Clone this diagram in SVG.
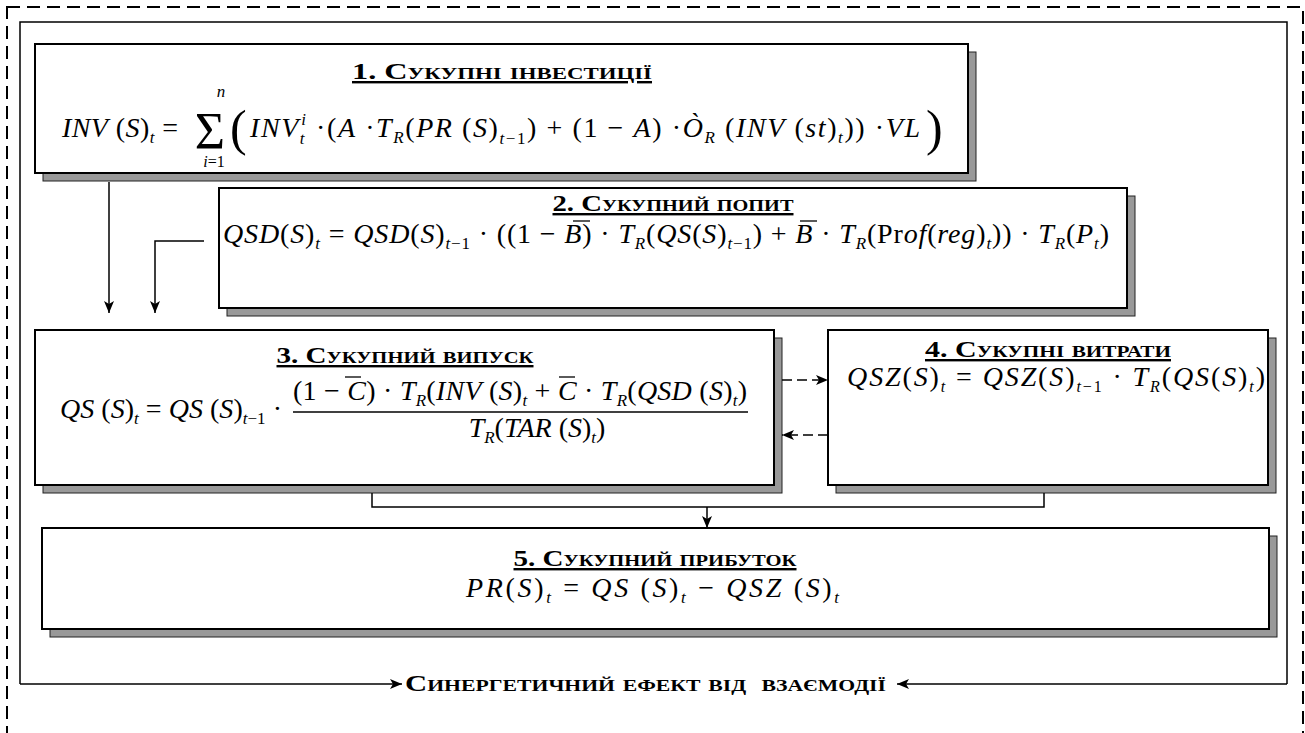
<svg xmlns="http://www.w3.org/2000/svg" width="1305" height="733" viewBox="0 0 1305 733">
<defs>
<marker id="ah" markerWidth="12" markerHeight="10" viewBox="0 0 12 10" refX="12" refY="5" orient="auto" markerUnits="userSpaceOnUse">
<path d="M0,0 L12,5 L0,10 L3,5 z" fill="#000"/>
</marker>
</defs>
<style>
text{font-family:"Liberation Serif","Times New Roman",serif}
.box{fill:#fff;stroke:#000;stroke-width:2}
.sh{fill:#999;stroke:#222;stroke-width:1}
.ttl{font-weight:bold;font-variant:small-caps;font-size:24px;text-decoration:underline;text-anchor:middle}
.f{font-style:italic;font-size:28px}
.u{font-style:normal}
.s{font-size:17px}
.ln{fill:none;stroke:#000;stroke-width:1.5}
.ar{fill:none;stroke:#000;stroke-width:1.5;marker-end:url(#ah)}
.da{fill:none;stroke:#000;stroke-width:1.5;stroke-dasharray:10 5;marker-end:url(#ah)}
.ol{stroke:#000;stroke-width:1.3}
</style>
<g id="frame">
<rect x="7" y="7" width="1296" height="760" fill="none" stroke="#000" stroke-width="2" stroke-dasharray="13 7"/>
<path class="ln" d="M20,684 V22 H1287 V684"/>
<text x="405" y="691" font-size="24" font-weight="bold" font-variant="small-caps" textLength="481" lengthAdjust="spacingAndGlyphs" xml:space="preserve">Синергетичний ефект від  взаємодії</text>
</g>
<g id="n1">
<rect class="sh" x="43" y="52" width="933" height="129"/>
<rect class="box" x="35" y="44" width="933" height="129"/>
<text class="ttl" x="502" y="79" textLength="300" lengthAdjust="spacingAndGlyphs">1. Сукупні інвестиції</text>
<text class="f" x="62" y="137" textLength="116" lengthAdjust="spacing">INV<tspan class="u"> (</tspan>S<tspan class="u">)</tspan><tspan class="s" dy="6">t</tspan><tspan class="u" dy="-6"> =</tspan></text>
<text x="210" y="149" font-size="52" text-anchor="middle">Σ</text>
<text class="f s" x="221" y="97" text-anchor="middle">n</text>
<text x="214" y="167" font-size="16" text-anchor="middle"><tspan font-style="italic">i</tspan>=1</text>
<text x="230" y="145" font-size="50">(</text>
<text class="f" x="250" y="137" textLength="670" lengthAdjust="spacing">INV<tspan class="s" dy="7">t</tspan><tspan class="s" dx="-5" dy="-19">i</tspan><tspan class="u" dy="12"> ·(</tspan>A<tspan class="u"> ·</tspan>T<tspan class="s" dy="6">R</tspan><tspan class="u" dy="-6">(</tspan>PR<tspan class="u"> (</tspan>S<tspan class="u">)</tspan><tspan class="s" dy="7">t</tspan><tspan class="s u">−1</tspan><tspan class="u" dy="-7">) + (1 − </tspan>A<tspan class="u">) ·</tspan>Ò<tspan class="s" dy="6">R</tspan><tspan class="u" dy="-6"> (</tspan>INV<tspan class="u"> (</tspan>st<tspan class="u">)</tspan><tspan class="s" dy="6">t</tspan><tspan class="u" dy="-6">)) ·</tspan>VL</text>
<text x="926" y="145" font-size="50">)</text>
</g>
<g id="n2">
<rect class="sh" x="227" y="196" width="908" height="120"/>
<rect class="box" x="219" y="188" width="908" height="120"/>
<text class="ttl" x="673" y="211" textLength="241" lengthAdjust="spacingAndGlyphs">2. Сукупний попит</text>
<text class="f" x="223" y="243" textLength="886" lengthAdjust="spacing">QSD<tspan class="u">(</tspan>S<tspan class="u">)</tspan><tspan class="s" dy="6">t</tspan><tspan class="u" dy="-6"> = </tspan>QSD<tspan class="u">(</tspan>S<tspan class="u">)</tspan><tspan class="s" dy="6">t</tspan><tspan class="s u">−1</tspan><tspan class="u" dy="-6"> · ((1 − </tspan>B<tspan class="u">) · </tspan>T<tspan class="s" dy="6">R</tspan><tspan class="u" dy="-6">(</tspan>QS<tspan class="u">(</tspan>S<tspan class="u">)</tspan><tspan class="s" dy="6">t</tspan><tspan class="s u">−1</tspan><tspan class="u" dy="-6">) + </tspan>B<tspan class="u"> · </tspan>T<tspan class="s" dy="6">R</tspan><tspan class="u" dy="-6">(Pr</tspan>of<tspan class="u">(</tspan>reg<tspan class="u">)</tspan><tspan class="s" dy="6">t</tspan><tspan class="u" dy="-6">)) · </tspan>T<tspan class="s" dy="6">R</tspan><tspan class="u" dy="-6">(</tspan>P<tspan class="s" dy="6">t</tspan><tspan class="u" dy="-6">)</tspan></text>
<line class="ol" x1="573" y1="221" x2="590" y2="221"/>
<line class="ol" x1="800" y1="221" x2="817" y2="221"/>
</g>
<g id="n3">
<rect class="sh" x="43" y="338" width="739" height="155"/>
<rect class="box" x="35" y="330" width="739" height="155"/>
<text class="ttl" x="405" y="363" textLength="257" lengthAdjust="spacingAndGlyphs">3. Сукупний випуск</text>
<text class="f" x="60" y="418" textLength="222" lengthAdjust="spacing">QS<tspan class="u"> (</tspan>S<tspan class="u">)</tspan><tspan class="s" dy="6">t</tspan><tspan class="u" dy="-6"> = </tspan>QS<tspan class="u"> (</tspan>S<tspan class="u">)</tspan><tspan class="s" dy="6">t</tspan><tspan class="s u">−1</tspan><tspan class="u" dy="-6"> ·</tspan></text>
<text class="f" x="293" y="400" textLength="454" lengthAdjust="spacing"><tspan class="u">(1 − </tspan>C<tspan class="u">) · </tspan>T<tspan class="s" dy="6">R</tspan><tspan class="u" dy="-6">(</tspan>INV<tspan class="u"> (</tspan>S<tspan class="u">)</tspan><tspan class="s" dy="6">t</tspan><tspan class="u" dy="-6"> + </tspan>C<tspan class="u"> · </tspan>T<tspan class="s" dy="6">R</tspan><tspan class="u" dy="-6">(</tspan>QSD<tspan class="u"> (</tspan>S<tspan class="u">)</tspan><tspan class="s" dy="6">t</tspan><tspan class="u" dy="-6">)</tspan></text>
<line class="ln" x1="293" y1="412" x2="748" y2="412"/>
<line class="ol" x1="345" y1="377" x2="361" y2="377"/>
<line class="ol" x1="559" y1="377" x2="575" y2="377"/>
<text class="f" x="537" y="437" text-anchor="middle">T<tspan class="s" dy="6">R</tspan><tspan class="u" dy="-6">(</tspan>TAR<tspan class="u"> (</tspan>S<tspan class="u">)</tspan><tspan class="s" dy="6">t</tspan><tspan class="u" dy="-6">)</tspan></text>
</g>
<g id="n4">
<rect class="sh" x="836" y="338" width="440" height="155"/>
<rect class="box" x="828" y="330" width="440" height="155"/>
<text class="ttl" x="1048" y="357" textLength="246" lengthAdjust="spacingAndGlyphs">4. Сукупні витрати</text>
<text class="f" x="847" y="386" font-size="26" textLength="418" lengthAdjust="spacing">QSZ<tspan class="u">(</tspan>S<tspan class="u">)</tspan><tspan font-size="16" dy="6">t</tspan><tspan class="u" dy="-6"> = </tspan>QSZ<tspan class="u">(</tspan>S<tspan class="u">)</tspan><tspan font-size="16" dy="6">t</tspan><tspan font-size="16" class="u">−1</tspan><tspan class="u" dy="-6"> · </tspan>T<tspan font-size="16" dy="6">R</tspan><tspan class="u" dy="-6">(</tspan>QS<tspan class="u">(</tspan>S<tspan class="u">)</tspan><tspan font-size="16" dy="6">t</tspan><tspan class="u" dy="-6">)</tspan></text>
</g>
<g id="n5">
<rect class="sh" x="50" y="536" width="1227" height="101"/>
<rect class="box" x="42" y="528" width="1227" height="101"/>
<text class="ttl" x="655" y="566" textLength="283" lengthAdjust="spacingAndGlyphs">5. Сукупний прибуток</text>
<text class="f" x="466" y="597" font-size="30" textLength="373" lengthAdjust="spacing">PR<tspan class="u">(</tspan>S<tspan class="u">)</tspan><tspan class="s" dy="6">t</tspan><tspan class="u" dy="-6"> = </tspan>QS<tspan class="u"> (</tspan>S<tspan class="u">)</tspan><tspan class="s" dy="6">t</tspan><tspan class="u" dy="-6"> − </tspan>QSZ<tspan class="u"> (</tspan>S<tspan class="u">)</tspan><tspan class="s" dy="6">t</tspan></text>
</g>
<g id="connectors">
<path class="ar" d="M109,182 V313"/>
<path class="ar" d="M204,241 H155 V313"/>
<path class="da" d="M782,380 H828"/>
<path class="da" d="M828,435 H782"/>
<path class="ln" d="M372,493 V507 H1044 V493"/>
<path class="ar" d="M707,507 V528"/>
<path class="ar" d="M20,684 H402"/>
<path class="ar" d="M1287,684 H897"/>
</g>
</svg>
